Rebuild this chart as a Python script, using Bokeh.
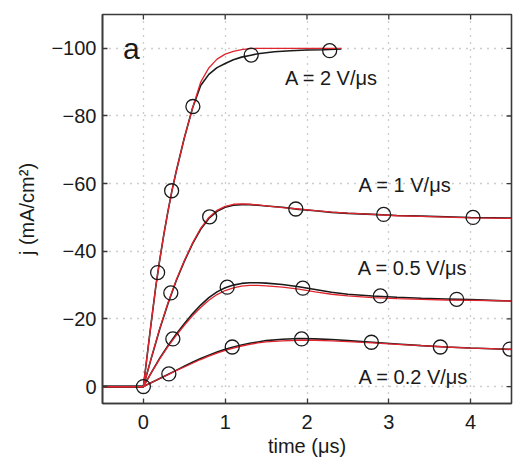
import math
from bokeh.plotting import figure
from bokeh.models import Range1d, FixedTicker, Label
from bokeh.embed import file_html
from bokeh.resources import INLINE

# ---- data ----
x_ticks = [0, 1, 2, 3, 4]
y_ticks = [-100, -80, -60, -40, -20, 0]
y_tick_labels = {-100: "\u2212100", -80: "\u221280", -60: "\u221260", -40: "\u221240", -20: "\u221220", 0: "0"}
x_lim = (-0.5, 4.5)
y_lim = (5, -110)

# A = 2 V/us
t_a2 = [-0.5, 0, 0.05, 0.1, 0.15, 0.2, 0.25, 0.3, 0.35, 0.4, 0.5, 0.6, 0.7, 0.8, 0.9, 1.0,
        1.1, 1.2, 1.3, 1.4, 1.6, 1.8, 2.0, 2.2, 2.42]
j_a2_sim = [0, 0, -10, -19.8, -29.3, -37.5, -45, -51.8, -58, -63.5, -73.5, -82.3, -90, -94.2,
            -96.8, -98.3, -99.1, -99.6, -99.9, -100, -100, -100, -100, -100, -100]
j_a2_meas = [0, 0, -10, -19.8, -29.3, -37.5, -45, -51.8, -58, -63.5, -73.5, -82.3, -89, -92.3,
             -94.3, -95.5, -96.6, -97.4, -97.9, -98.4, -99.0, -99.3, -99.5, -99.6, -99.8]
c_a2_t = [0, 0.174, 0.345, 0.605, 1.318, 2.277]
c_a2_j = [0, -33.7, -57.9, -82.8, -98.0, -99.3]

# common time base for the other three
t_c = [-0.5, 0, 0.1, 0.2, 0.3, 0.4, 0.5, 0.6, 0.7, 0.8, 0.9, 1.0, 1.1, 1.2, 1.3, 1.4, 1.5,
       1.7, 1.9, 2.1, 2.3, 2.5, 2.8, 3.1, 3.4, 3.7, 4.0, 4.25, 4.5]

# A = 1 V/us
j_a1_meas = [0, 0, -8.7, -17, -24.5, -31.2, -37, -42.2, -46.5, -49.7, -51.8, -53, -53.6, -53.8,
             -53.8, -53.6, -53.4, -53, -52.4, -52, -51.5, -51.2, -50.9, -50.6, -50.4, -50.2,
             -50.0, -49.9, -49.8]
j_a1_sim = [0, 0, -8.8, -17.2, -24.7, -31.4, -37.2, -42.4, -46.8, -50.0, -52.1, -53.3, -53.9,
            -54.0, -53.9, -53.7, -53.4, -52.9, -52.5, -52.0, -51.6, -51.3, -50.9, -50.5, -50.3,
            -50.1, -49.9, -49.8, -49.7]
c_a1_t = [0.335, 0.81, 1.863, 2.937, 4.03]
c_a1_j = [-27.7, -50.2, -52.5, -50.9, -50.0]

# A = 0.5 V/us
j_a05_meas = [0, 0, -4.3, -8.4, -12.1, -15.5, -18.6, -21.5, -24.1, -26.3, -28.0, -29.2, -30.0,
              -30.5, -30.7, -30.7, -30.6, -30.2, -29.5, -28.7, -27.9, -27.3, -26.8, -26.4,
              -26.1, -25.9, -25.7, -25.5, -25.3]
j_a05_sim = [0, 0, -4.2, -8.2, -11.8, -15.1, -18.1, -20.9, -23.4, -25.5, -27.2, -28.4, -29.2,
             -29.7, -29.9, -29.9, -29.8, -29.4, -28.8, -28.0, -27.3, -26.8, -26.3, -26.0,
             -25.8, -25.6, -25.5, -25.4, -25.3]
c_a05_t = [0.36, 1.024, 1.949, 2.897, 3.83]
c_a05_j = [-14.1, -29.4, -29.1, -26.8, -25.8]

# A = 0.2 V/us
j_a02_meas = [0, 0, -1.2, -2.4, -3.6, -4.8, -6.0, -7.2, -8.3, -9.3, -10.2, -11.0, -11.7, -12.3,
              -12.8, -13.2, -13.6, -14.0, -14.2, -14.1, -13.9, -13.6, -13.1, -12.6, -12.1,
              -11.7, -11.4, -11.2, -11.0]
j_a02_sim = [0, 0, -1.2, -2.4, -3.5, -4.7, -5.8, -6.9, -8.0, -9.0, -9.9, -10.7, -11.4, -12.0,
             -12.5, -12.9, -13.2, -13.5, -13.7, -13.7, -13.5, -13.3, -12.9, -12.5, -12.1,
             -11.7, -11.4, -11.2, -11.0]
c_a02_t = [0.311, 1.086, 1.934, 2.787, 3.63, 4.48]
c_a02_j = [-3.75, -11.7, -14.1, -13.1, -11.7, -11.1]

labels = ["A = 2 V/\u03bcs", "A = 1 V/\u03bcs", "A = 0.5 V/\u03bcs", "A = 0.2 V/\u03bcs"]
label_t = [1.73, 2.63, 2.62, 2.63]
label_j = [-91.2, -59.6, -35.1, -2.9]

FONT = "Liberation Sans"
BLACK = "#1a1a1a"
RED = "#e0252e"
AXC = "#3a3a3a"

p = figure(width=513, height=459, output_backend="svg", toolbar_location=None,
           x_range=Range1d(*x_lim), y_range=Range1d(*y_lim),
           min_border_left=102, min_border_right=2, min_border_top=14, min_border_bottom=56)
p.background_fill_color = "white"
p.border_fill_color = "white"
p.outline_line_color = AXC
p.outline_line_width = 1.6

for ax in p.xaxis + p.yaxis:
    ax.major_tick_in = 5
    ax.major_tick_out = 0
    ax.minor_tick_line_color = None
    ax.axis_line_color = AXC
    ax.axis_line_width = 1.6
    ax.major_tick_line_color = AXC
    ax.major_tick_line_width = 1.3
    ax.major_label_text_font = FONT
    ax.major_label_text_font_size = "20px"
    ax.major_label_text_color = "#1a1a1a"
    ax.axis_label_text_font = FONT
    ax.axis_label_text_font_size = "20px"
    ax.axis_label_text_font_style = "normal"
    ax.axis_label_text_color = "#1a1a1a"

p.xaxis.ticker = FixedTicker(ticks=x_ticks)
p.yaxis.ticker = FixedTicker(ticks=y_ticks)
p.yaxis.major_label_overrides = y_tick_labels
p.xaxis.major_label_standoff = 11
p.yaxis.major_label_standoff = 6
p.xaxis.axis_label = "time (\u03bcs)"
p.yaxis.axis_label = "j (mA/cm\u00b2)"
p.xaxis.axis_label_standoff = 3
p.yaxis.axis_label_standoff = 10

p.xgrid.ticker = FixedTicker(ticks=x_ticks)
p.ygrid.ticker = FixedTicker(ticks=y_ticks)
p.grid.grid_line_color = "#9a9a9a"
p.grid.grid_line_width = 1.3
p.grid.grid_line_dash = "1 6"

# inward tick marks on the top and right frame edges (half of each dash is clipped by the frame)
p.scatter(x_ticks, [y_lim[1]] * len(x_ticks), marker="dash", size=10, angle=math.pi / 2,
          line_color=AXC, line_width=1.3)
p.scatter([x_lim[1]] * len(y_ticks), y_ticks, marker="dash", size=10,
          line_color=AXC, line_width=1.3)

series = [
    (t_a2, j_a2_meas, j_a2_sim, c_a2_t, c_a2_j),
    (t_c, j_a1_meas, j_a1_sim, c_a1_t, c_a1_j),
    (t_c, j_a05_meas, j_a05_sim, c_a05_t, c_a05_j),
    (t_c, j_a02_meas, j_a02_sim, c_a02_t, c_a02_j),
]
for t, jm, js, ct, cj in series:
    p.line(t, jm, line_color=BLACK, line_width=1.6)
for t, jm, js, ct, cj in series:
    p.line(t, js, line_color=RED, line_width=1.3)
for t, jm, js, ct, cj in series:
    p.scatter(ct, cj, marker="circle", size=14, fill_color=None, line_color=BLACK, line_width=1.3)

for txt, lx, ly in zip(labels, label_t, label_j):
    p.add_layout(Label(x=lx, y=ly, text=txt, text_font=FONT, text_font_size="20px",
                       text_color="#1a1a1a", text_baseline="middle", text_align="left"))

p.add_layout(Label(x=-0.25, y=-100, text="a", text_font=FONT, text_font_size="30px",
                   text_color="#1a1a1a", text_baseline="middle", text_align="left"))

open("out.html", "w").write(file_html(p, INLINE))
